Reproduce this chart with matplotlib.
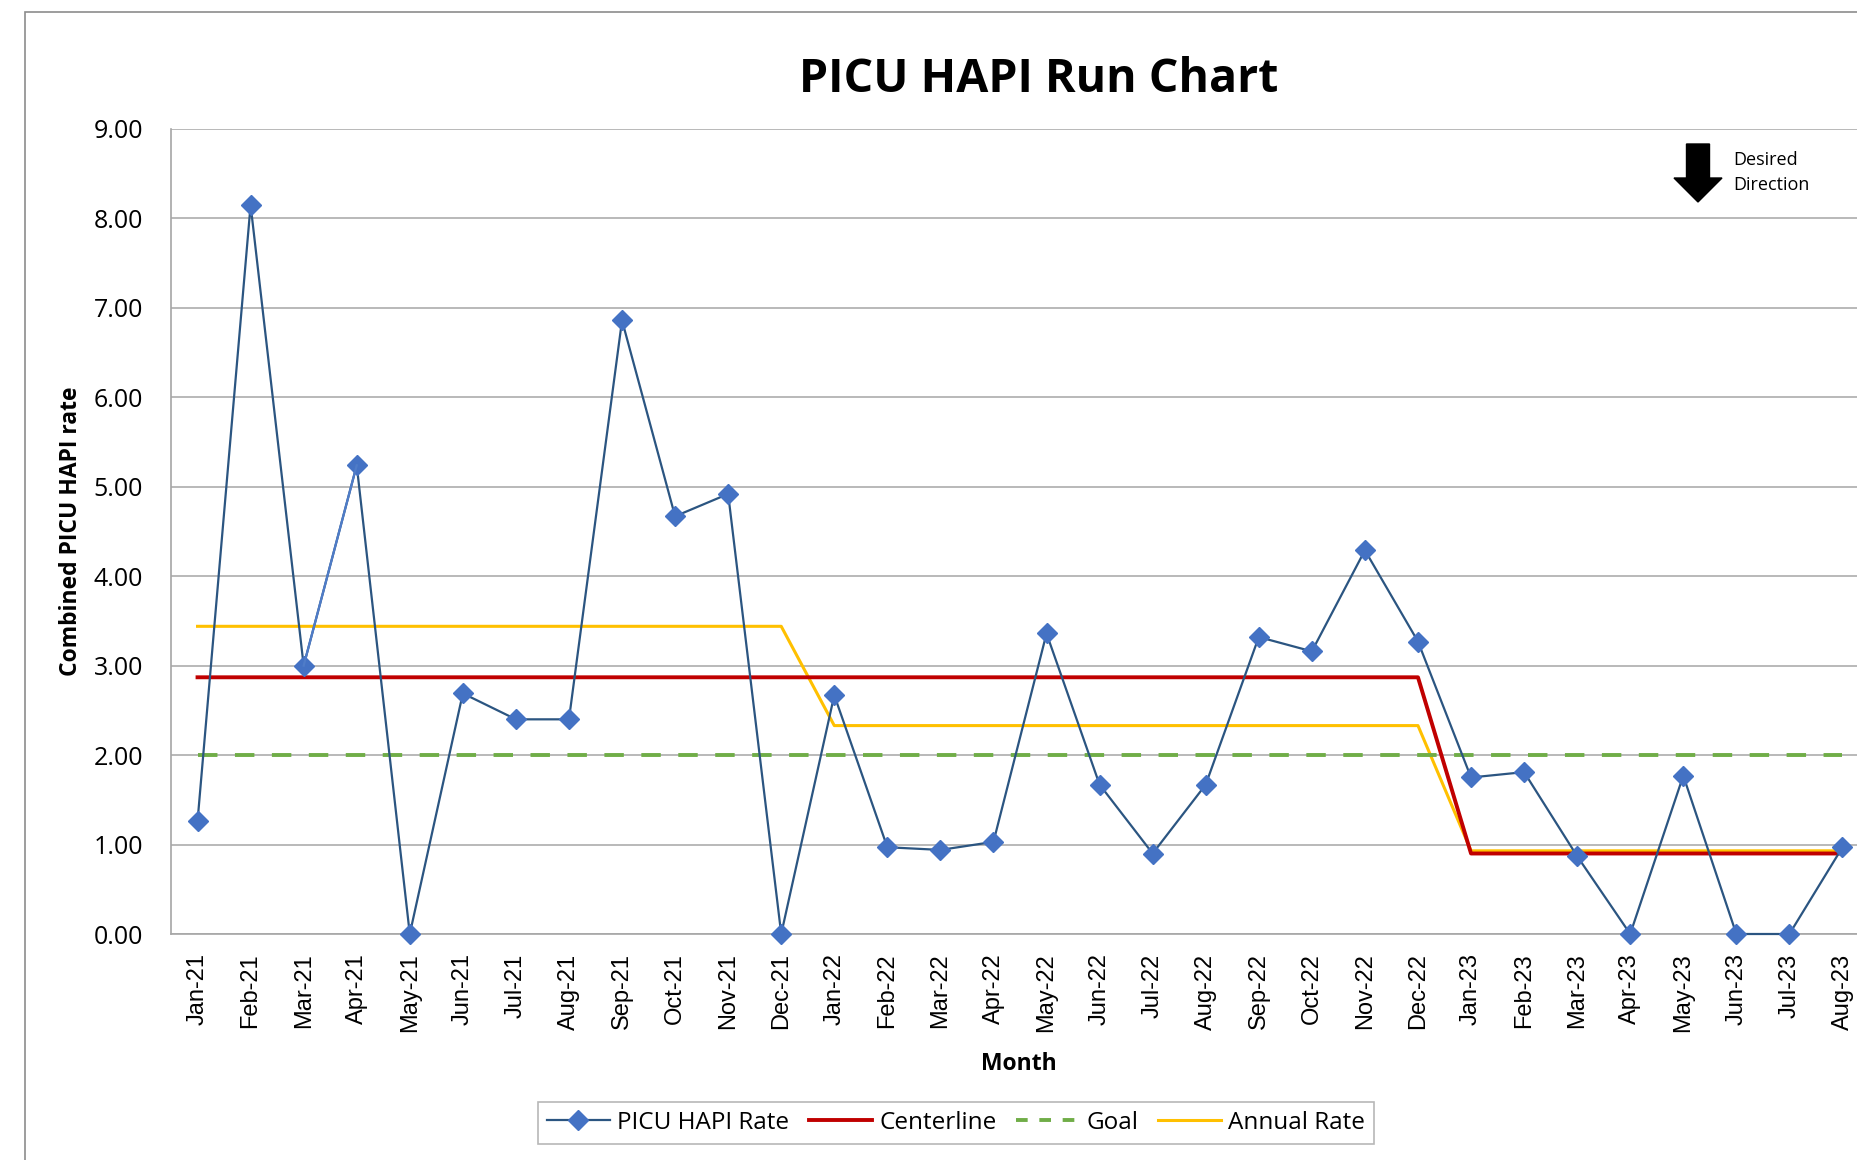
import matplotlib
matplotlib.use('Agg')
import matplotlib.pyplot as plt
from matplotlib.patches import Rectangle, FancyArrow
from matplotlib.lines import Line2D

# -------------------------
# Data
# -------------------------
months = ["Jan-21", "Feb-21", "Mar-21", "Apr-21", "May-21", "Jun-21", "Jul-21", "Aug-21",
          "Sep-21", "Oct-21", "Nov-21", "Dec-21", "Jan-22", "Feb-22", "Mar-22", "Apr-22",
          "May-22", "Jun-22", "Jul-22", "Aug-22", "Sep-22", "Oct-22", "Nov-22", "Dec-22",
          "Jan-23", "Feb-23", "Mar-23", "Apr-23", "May-23", "Jun-23", "Jul-23", "Aug-23"]
hapi_rate = [1.26, 8.15, 3.00, 5.24, 0.00, 2.69, 2.40, 2.40,
             6.86, 4.67, 4.92, 0.00, 2.67, 0.97, 0.94, 1.03,
             3.36, 1.67, 0.90, 1.67, 3.32, 3.16, 4.29, 3.27,
             1.75, 1.81, 0.87, 0.00, 1.77, 0.00, 0.00, 0.97]
centerline = [2.87] * 24 + [0.90] * 8
goal = [2.00] * 32
annual_rate = [3.44] * 12 + [2.33] * 12 + [0.93] * 8
y_ticks = [0, 1, 2, 3, 4, 5, 6, 7, 8, 9]

FONT = ["Open Sans", "DejaVu Sans"]
GRID = "#A6A6A6"

fig = plt.figure(figsize=(18.57, 11.6), dpi=100)

# outer chart frame (cropped at right and bottom)
fig.patches.append(Rectangle((25 / 1857, -0.2), 1.2, 1.2 - 12 / 1160,
                             transform=fig.transFigure, fill=False,
                             edgecolor="#8C8C8C", linewidth=1.2))

ax = fig.add_axes([171 / 1857, 226 / 1160, 1698 / 1857, 805 / 1160])
x = list(range(len(months)))

ax.plot(x, annual_rate, color="#FFC000", linewidth=2.2, zorder=3)
ax.plot(x, centerline, color="#C00000", linewidth=2.8, zorder=3)
ax.plot(x, goal, color="#70AD47", linewidth=2.8, linestyle=(0, (5, 4.5)), zorder=3)
ax.plot(x, hapi_rate, color="#2B5581", linewidth=1.6, zorder=4, clip_on=False,
        marker="D", markersize=10.5, markerfacecolor="#4472C4", markeredgecolor="#4472C4")
# one segment drawn lighter in the source chart
ax.plot(x[2:4], hapi_rate[2:4], color="#4F7CC8", linewidth=1.6, zorder=4)

ax.set_xlim(-0.5, len(months) - 0.5)
ax.set_ylim(0, 9)
ax.set_yticks(y_ticks)
ax.set_yticklabels([f"{v:.2f}" for v in y_ticks], fontsize=18, family=FONT)
ax.set_xticks(x)
ax.set_xticklabels(months, rotation=90, fontsize=17, family=["Liberation Sans", "DejaVu Sans"])
ax.tick_params(length=0, pad=14)
ax.tick_params(axis="y", pad=20)
ax.yaxis.grid(True, color=GRID, linewidth=1.1)
ax.set_axisbelow(True)
for s in ["top", "right"]:
    ax.spines[s].set_visible(False)
for s in ["left", "bottom"]:
    ax.spines[s].set_color(GRID)
    ax.spines[s].set_linewidth(1.2)

fig.text(1039 / 1857, 1 - 80 / 1160, "PICU HAPI Run Chart", ha="center", va="center",
         fontsize=33.5, fontweight="bold", family=FONT)
fig.text(71 / 1857, 1 - 531 / 1160, "Combined PICU HAPI rate", ha="center", va="center",
         rotation=90, fontsize=16.5, fontweight="bold", family=FONT)
fig.text(1019 / 1857, 1 - 1064 / 1160, "Month", ha="center", va="center",
         fontsize=16.5, fontweight="bold", family=FONT)

# desired direction arrow
fig.patches.append(FancyArrow(1698 / 1857, 1 - 144 / 1160, 0, -58 / 1160,
                              width=23 / 1857, head_width=48 / 1857, head_length=24 / 1160,
                              length_includes_head=True, transform=fig.transFigure,
                              color="black"))
fig.text(1733 / 1857, 1 - 160 / 1160, "Desired", ha="left", va="center", fontsize=13, family=FONT)
fig.text(1733 / 1857, 1 - 185 / 1160, "Direction", ha="left", va="center", fontsize=13, family=FONT)

handles = [
    Line2D([], [], color="#2B5581", linewidth=1.6, marker="D", markersize=10.5,
           markerfacecolor="#4472C4", markeredgecolor="#4472C4"),
    Line2D([], [], color="#C00000", linewidth=2.8),
    Line2D([], [], color="#70AD47", linewidth=2.8, linestyle=(0, (3, 3))),
    Line2D([], [], color="#FFC000", linewidth=2.2),
]
labels = ["PICU HAPI Rate", "Centerline", "Goal", "Annual Rate"]
leg = fig.legend(handles, labels, loc="center", bbox_to_anchor=(956 / 1857, 1 - 1123 / 1160),
                 ncol=4, frameon=True, fancybox=False, prop={"family": FONT, "size": 17.5},
                 handlelength=2.6, handletextpad=0.3, columnspacing=0.8, borderpad=0.35)
leg.get_frame().set_edgecolor("#A6A6A6")
leg.get_frame().set_linewidth(1.2)

fig.savefig("out.png", dpi=100)
